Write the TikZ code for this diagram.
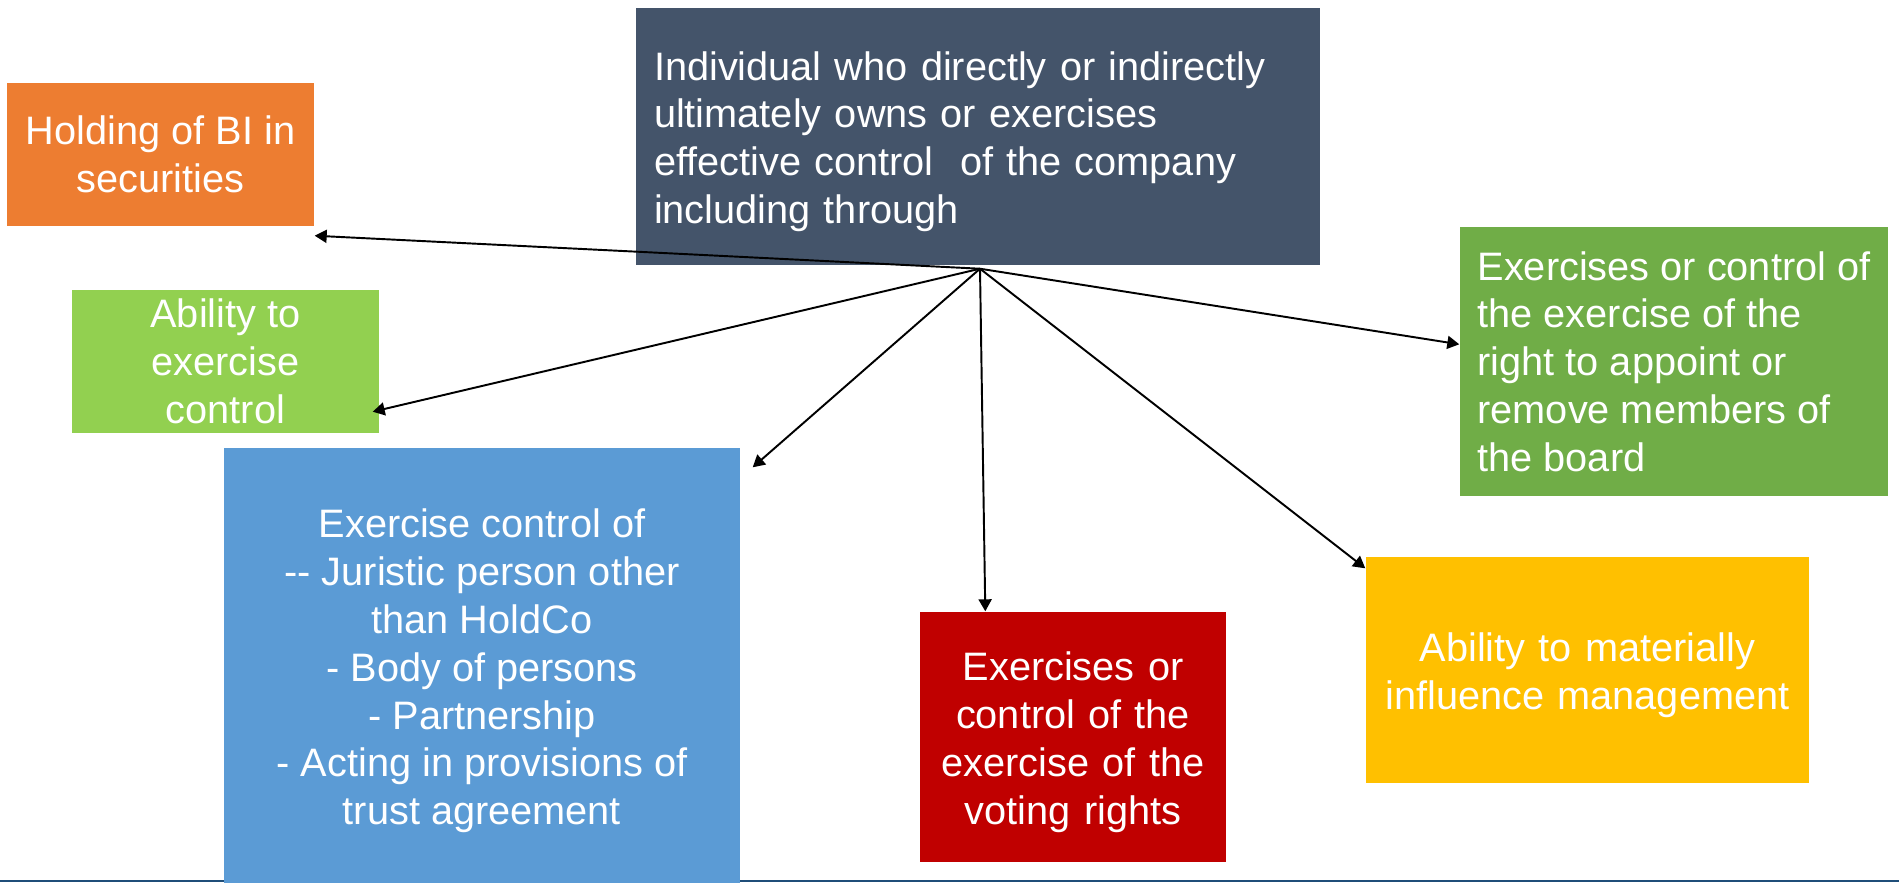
\documentclass[tikz,border=0pt]{standalone}
\usepackage{fontspec}
\setmainfont{Liberation Sans}
\usetikzlibrary{arrows.meta}

\definecolor{slate}{RGB}{68,84,106}
\definecolor{tangerine}{RGB}{237,125,49}
\definecolor{lime}{RGB}{146,208,80}
\definecolor{sky}{RGB}{91,155,213}
\definecolor{crimson}{RGB}{192,0,0}
\definecolor{amber}{RGB}{255,192,0}
\definecolor{leaf}{RGB}{112,173,71}
\definecolor{navy}{RGB}{31,78,121}

\begin{document}
\begin{tikzpicture}[
    box/.style={inner sep=0pt, text=white, align=center,
      font=\fontsize{11.3}{13.6}\selectfont,
      execute at begin node={\rule{0pt}{0.39cm}}},
    link/.style={-{Triangle[length=0.12cm, width=0.13cm]}, line width=0.55pt}
  ]
  \useasboundingbox (0,0) rectangle (18.99,-8.82);

  % Rule along the bottom edge
  \draw[navy, line width=0.02cm] (0,-8.81) -- (18.99,-8.81);

  %% Central box
  \node[box, fill=slate, minimum width=6.84cm, minimum height=2.57cm,
        text width=6.48cm, align=left] (owner) at (9.78,-1.365)
    {Individual who directly or indirectly\\
     ultimately owns or exercises\\
     effective control~ of the company\\
     including through};

  %% Surrounding boxes
  \node[box, fill=tangerine, minimum width=3.07cm, minimum height=1.43cm]
    (holding) at (1.605,-1.545) {Holding of BI in\\securities};
  \node[box, fill=lime, minimum width=3.07cm, minimum height=1.43cm]
    (ability) at (2.255,-3.615) {Ability to\\exercise\\control};
  \node[box, fill=sky, minimum width=5.16cm, minimum height=4.46cm]
    (entities) at (4.82,-6.71)
    {Exercise control of\\
     -{}- Juristic person other\\
     than HoldCo\\
     - Body of persons\\
     - Partnership\\
     - Acting in provisions of\\
     trust agreement};
  \node[box, fill=crimson, text width=3.06cm, minimum height=2.50cm]
    (voting) at (10.73,-7.37)
    {Exercises or\\control of the\\exercise of the\\voting rights};
  \node[box, fill=amber, text width=4.43cm, minimum height=2.26cm]
    (influence) at (15.875,-6.70)
    {Ability to materially\\influence management};
  \node[box, fill=leaf, minimum width=4.28cm, minimum height=2.69cm,
        align=left] (board) at (16.74,-3.615)
    {Exercises or control of\\
     the exercise of the\\
     right to appoint or\\
     remove members of\\
     the board};

  % Arrows fan out from just under the central box
  \coordinate (hub) at ([shift={(0.02,-0.03)}]owner.south);

  \draw[link] (hub) -- ([yshift=-0.09cm]holding.south east);
  \draw[link] (hub) -- ([shift={(-0.07,0.22)}]ability.south east);
  \draw[link] (hub) -- ([shift={(0.12,-0.20)}]entities.north east);
  \draw[link] (hub) -- ([xshift=0.66cm]voting.north west);
  \draw[link] (hub) -- ([yshift=-0.12cm]influence.north west);
  \draw[link] (hub) -- ([yshift=-1.18cm]board.north west);

\end{tikzpicture}
\end{document}
